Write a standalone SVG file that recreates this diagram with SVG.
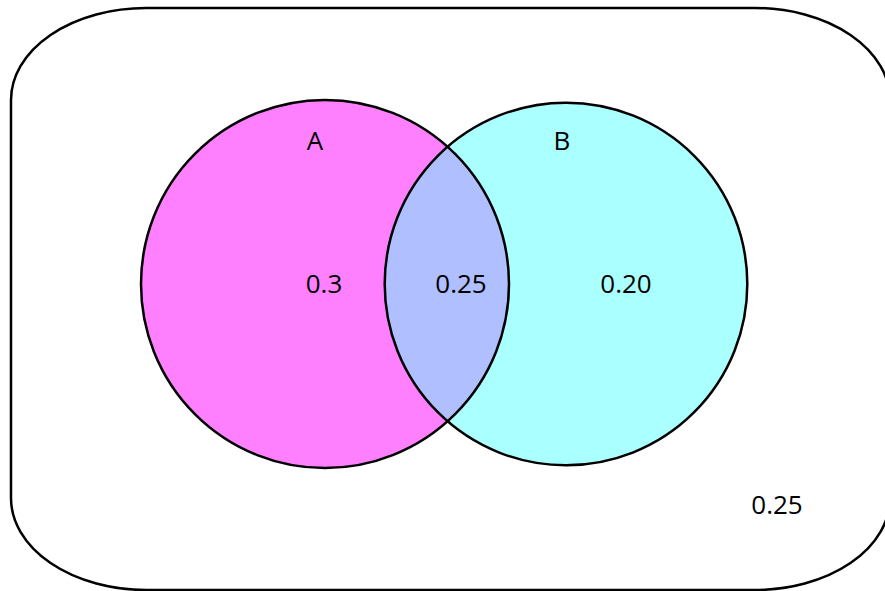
<svg xmlns="http://www.w3.org/2000/svg" width="885" height="591" viewBox="0 0 885 591">
<style>
.lbl{font-family:"Open Sans","Liberation Sans",sans-serif;font-size:26px;fill:#000;text-anchor:middle}
.ol{fill:none;stroke:#000;stroke-width:2.5}
</style>
<defs>
<clipPath id="clipA"><circle cx="325" cy="284" r="184"/></clipPath>
</defs>
<rect width="885" height="591" fill="#fff"/>
<g id="universe">
<rect x="11" y="8" width="879" height="582" rx="135" ry="92" fill="#fff" stroke="#000" stroke-width="2.5"/>
<text class="lbl" x="777" y="514">0.25</text>
</g>
<g id="setA">
<circle cx="325" cy="284" r="184" fill="#FF80FF"/>
</g>
<g id="setB">
<circle cx="566" cy="284" r="181.3" fill="#AAFFFF"/>
</g>
<g id="intersection">
<circle cx="566" cy="284" r="181.3" fill="#AFBFFF" clip-path="url(#clipA)"/>
</g>
<g id="outlines">
<circle class="ol" cx="325" cy="284" r="184"/>
<circle class="ol" cx="566" cy="284" r="181.3"/>
</g>
<g id="labels">
<text class="lbl" x="315" y="150">A</text>
<text class="lbl" x="562" y="150">B</text>
<text class="lbl" x="324" y="293">0.3</text>
<text class="lbl" x="461" y="293">0.25</text>
<text class="lbl" x="626" y="293">0.20</text>
</g>
</svg>
